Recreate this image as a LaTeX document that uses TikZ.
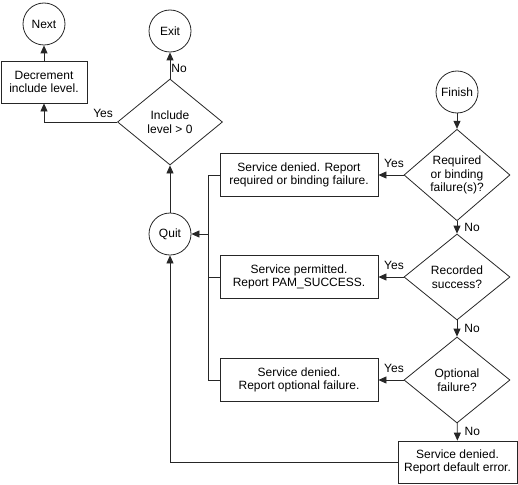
\documentclass[tikz,border=0pt]{standalone}
\usepackage{fontspec}
\setmainfont{Liberation Sans}
\usetikzlibrary{shapes.geometric,arrows.meta}
\begin{document}
\begin{tikzpicture}[x=1pt,y=-1pt,
  every node/.style={font=\fontsize{12}{13.5}\selectfont},
  line/.style={draw=black!85,line width=0.8pt},
  arr/.style={line,-{Triangle[length=8pt,width=7pt]}},
  term/.style={circle,line,minimum size=42pt,inner sep=0pt},
  decide/.style={diamond,line,minimum width=106pt,minimum height=86pt,inner sep=0pt,align=center},
  proc/.style={rectangle,line,minimum width=158pt,minimum height=43pt,inner sep=0pt,align=center},
  lbl/.style={inner sep=1pt}]
\useasboundingbox (0,0) rectangle (518,484);
% nodes
\node[term] (next) at (44,24) {Next};
\node[term] (exit) at (170,31) {Exit};
\node[proc,minimum width=86pt,minimum height=42pt] (dec) at (44,82) {Decrement\\include level.};
\node[decide,minimum width=105pt] (inc) at (170,122) {Include\\level > 0};
\node[term] (quit) at (170,234) {Quit};
\node[term] (finish) at (457,92) {Finish};
\node[decide] (d1) at (457,175) {Required\\or binding\\failure(s)?};
\node[decide] (d2) at (457,277) {Recorded\\success?};
\node[decide] (d3) at (457,380) {Optional\\failure?};
\node[proc] (b1) at (299,175) {Service denied. Report\\required or binding failure.};
\node[proc] (b2) at (299,277) {Service permitted.\\Report PAM\_SUCCESS.};
\node[proc] (b3) at (299,380) {Service denied.\\Report optional failure.};
\node[proc,minimum width=119pt,minimum height=42pt] (b4) at (457.5,462) {Service denied.\\Report default error.};
\coordinate (bus) at (208,175);
% connectors
\draw[arr] (dec) -- (next);
\draw[arr] (inc) -- node[lbl,anchor=west,pos=0.4] {No} (exit);
\draw[arr] (inc.west) -| (dec.south);
\node[lbl,anchor=south east,xshift=-3pt,yshift=3.5pt] (yes0) at (inc.west) {Yes};
\draw[arr] (quit) -- (inc);
\draw[arr] (finish) -- (d1);
\draw[arr] (d1) -- node[lbl,anchor=west,xshift=6pt] {No} (d2);
\draw[arr] (d2) -- node[lbl,anchor=west,xshift=6pt] {No} (d3);
\draw[arr] (d3) -- node[lbl,anchor=west,xshift=6pt] {No} (b4);
\draw[arr] (d1) -- node[lbl,anchor=south,xshift=3pt,yshift=6pt] {Yes} (b1);
\draw[arr] (d2) -- node[lbl,anchor=south,xshift=3pt,yshift=6pt] {Yes} (b2);
\draw[arr] (d3) -- node[lbl,anchor=south,xshift=3pt,yshift=6pt] {Yes} (b3);
\draw[line] (b1.west) -- (bus) |- (b3.west);
\draw[line] (b2.west) -- (b2.west -| bus);
\draw[arr] (bus |- quit) -- (quit);
\draw[arr] (b4.west) -| (quit.south);
\end{tikzpicture}
\end{document}
